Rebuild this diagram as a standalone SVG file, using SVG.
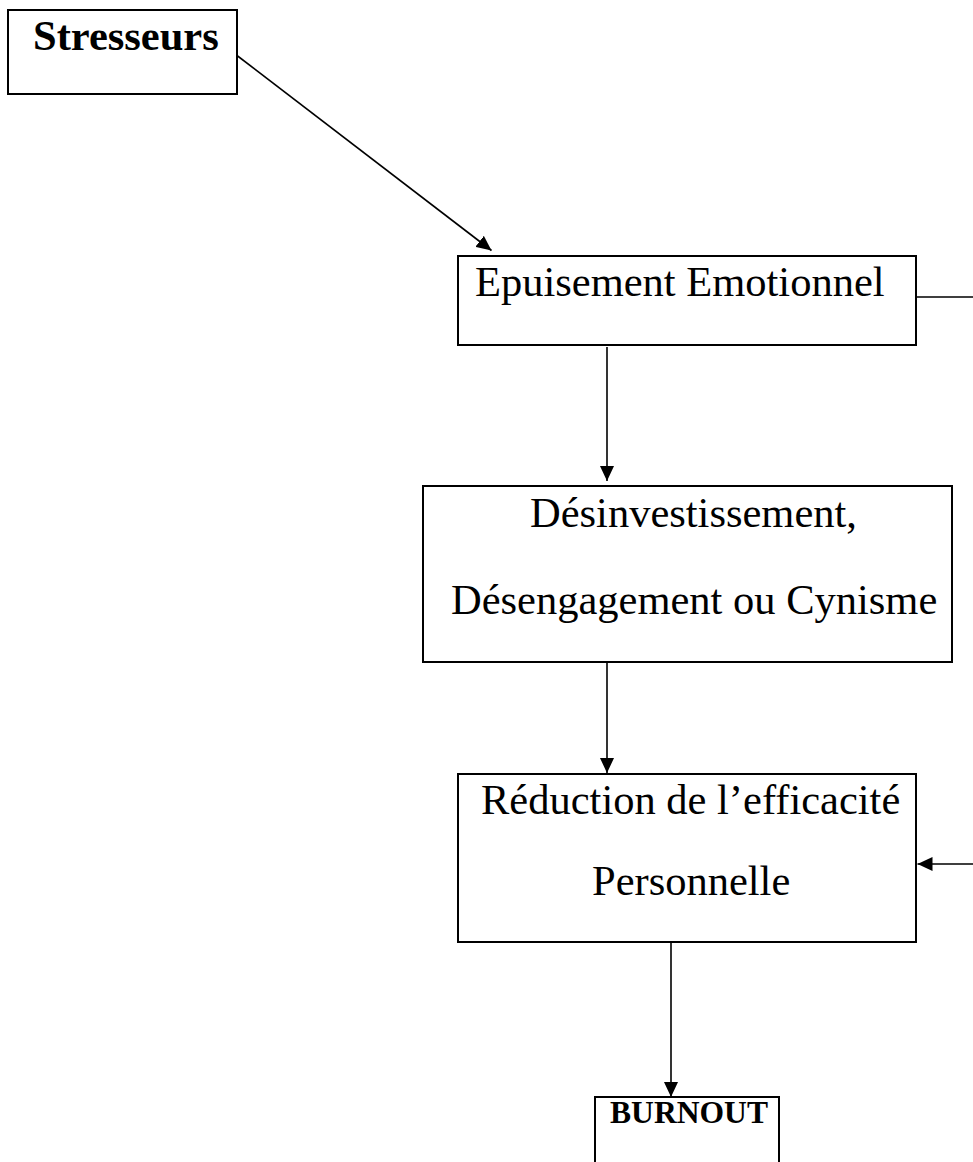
<svg xmlns="http://www.w3.org/2000/svg" width="973" height="1162" viewBox="0 0 973 1162">
<style>
.box{fill:#fff;stroke:#000;stroke-width:2}
.t{font-family:"Liberation Serif","Times New Roman",serif;font-size:42.5px;fill:#000}
.b{font-weight:bold}
.c{fill:none;stroke:#000;stroke-width:1.6}
</style>
<defs>
<marker id="ah" markerUnits="userSpaceOnUse" markerWidth="16" markerHeight="14" refX="15" refY="7" orient="auto">
<path d="M0,0 L15,7 L0,14 Z" fill="#000"/>
</marker>
</defs>
<rect width="973" height="1162" fill="#fff"/>
<g id="connectors">
<path class="c" d="M235,54 L491.5,250.5" marker-end="url(#ah)"/>
<path class="c" d="M607,347 V481" marker-end="url(#ah)"/>
<path class="c" d="M607,663 V773" marker-end="url(#ah)"/>
<path class="c" d="M671,940 V1097" marker-end="url(#ah)"/>
<path class="c" d="M916,297 H995 V864 H917.5" marker-end="url(#ah)"/>
</g>
<g id="stresseurs">
<rect class="box" x="8" y="10" width="229" height="84"/>
<text class="t b" x="33" y="50">Stresseurs</text>
</g>
<g id="epuisement">
<rect class="box" x="458" y="256" width="458" height="89"/>
<text class="t" x="475" y="296">Epuisement Emotionnel</text>
</g>
<g id="desinvestissement">
<rect class="box" x="423" y="486" width="529" height="176"/>
<text class="t" x="530" y="527">Désinvestissement,</text>
<text class="t" x="451" y="614">Désengagement ou Cynisme</text>
</g>
<g id="reduction">
<rect class="box" x="458" y="774" width="458" height="168"/>
<text class="t" x="481" y="814">Réduction de l’efficacité</text>
<text class="t" x="592" y="895">Personnelle</text>
</g>
<g id="burnout">
<rect class="box" x="595" y="1097" width="184" height="100"/>
<text class="t b" x="610" y="1123" style="font-size:31.6px">BURNOUT</text>
</g>
</svg>
